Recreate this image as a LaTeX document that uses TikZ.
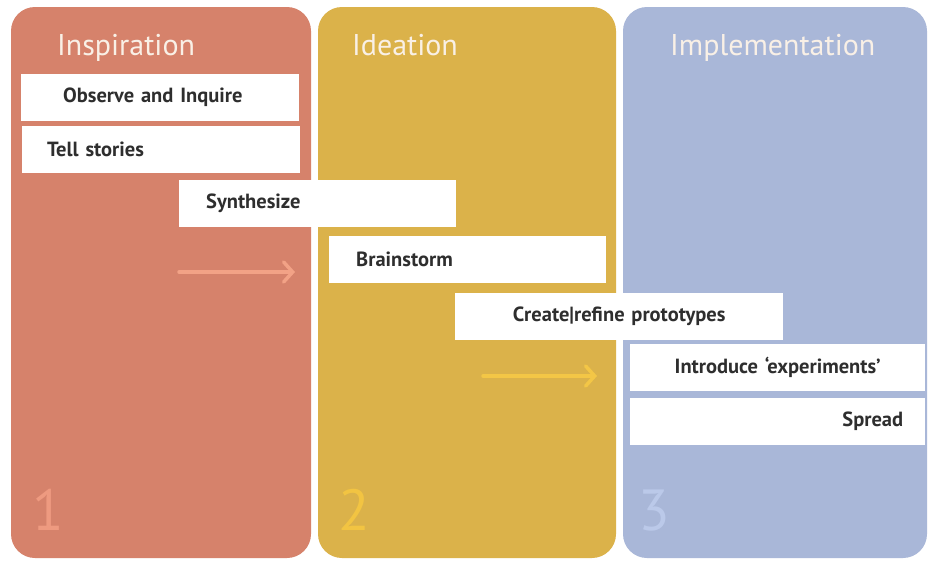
\documentclass[tikz,border=0pt]{standalone}
\usepackage{fontspec}
\setmainfont{PT Sans}
\usetikzlibrary{arrows.meta}
\definecolor{inspfill}{HTML}{D6826B}
\definecolor{ideafill}{HTML}{DBB24A}
\definecolor{implfill}{HTML}{A9B7D8}
\definecolor{inspnum}{HTML}{EE9A80}
\definecolor{ideanum}{HTML}{F2C442}
\definecolor{implnum}{HTML}{BBC9E9}
\definecolor{inspline}{HTML}{F2A286}
\definecolor{idealine}{HTML}{F3C646}
\definecolor{titletext}{HTML}{F9F0E6}
\definecolor{boxtext}{HTML}{2E2E2E}
\begin{document}
\begin{tikzpicture}[x=1pt,y=-1pt,
  panel/.style={rounded corners=24pt},
  phasetitle/.style={anchor=base west, inner sep=0pt, text=titletext,
    font=\fontsize{30}{34}\selectfont},
  phasenum/.style={anchor=base west, inner sep=0pt,
    font=\fontsize{58}{62}\selectfont},
  stepbox/.style={fill=white, anchor=north west, inner ysep=0pt,
    minimum height=47pt, text=boxtext,
    font=\bfseries\fontsize{20.5}{23}\selectfont},
  flow/.style={line width=3.5pt, line cap=round,
    -{Straight Barb[length=9pt,width=20pt,line cap=round]}}
]
\useasboundingbox (0,0) rectangle (928,560);
\fill[white] (0,0) rectangle (928,560);

% three phase columns
\fill[panel, inspfill] (11,7) rectangle (311,558);
\fill[panel, ideafill] (318,7) rectangle (616,558);
\fill[panel, implfill] (623,7) rectangle (927,558);

\node[phasetitle] (t1) at (57,55) {Inspiration};
\node[phasetitle] (t2) at (352,55) {Ideation};
\node[phasetitle] (t3) at (670,55) {Implementation};

\node[phasenum, text=inspnum] (n1) at (32,530) {1};
\node[phasenum, text=ideanum] (n2) at (338,530) {2};
\node[phasenum, text=implnum] (n3) at (638,530) {3};

% flow arrows
\coordinate (a1s) at (179,272);
\coordinate (a1e) at (295,272);
\coordinate (a2s) at (483,376);
\coordinate (a2e) at (597,376);
\draw[flow, inspline] (a1s) -- (a1e);
\draw[flow, idealine] (a2s) -- (a2e);

% step boxes
\node[stepbox, inner xsep=42pt, text width=194pt, align=left] (obs) at (21,74) {Observe and Inquire};
\node[stepbox, inner xsep=25pt, text width=228pt, align=left] (tell) at (22,126) {Tell stories};
\node[stepbox, inner xsep=27pt, text width=223pt, align=left] (syn) at (179,180) {Synthesize};
\node[stepbox, inner xsep=27pt, text width=223pt, align=left] (brain) at (329,236) {Brainstorm};
\node[stepbox, inner xsep=20pt, text width=288pt, align=center] (proto) at (455,293) {Create|refine prototypes};
\node[stepbox, inner xsep=20pt, text width=255pt, align=center] (exper) at (630,344) {Introduce `experiments'};
\node[stepbox, inner xsep=22pt, text width=251pt, align=right] (spread) at (630,398) {Spread};
\end{tikzpicture}
\end{document}
